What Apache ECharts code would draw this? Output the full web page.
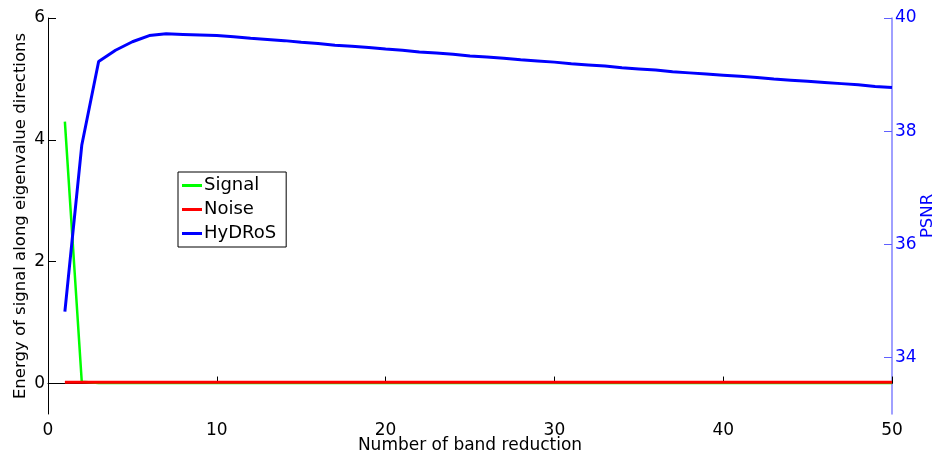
<!DOCTYPE html>
<html>
<head>
<meta charset="utf-8">
<script src="https://cdn.jsdelivr.net/npm/echarts@6/dist/echarts.min.js"></script>
<style>
  html, body { margin: 0; padding: 0; background: #fff; }
  #chart { width: 938px; height: 458px; }
</style>
</head>
<body>
<div id="chart"></div>
<script>
// Band reduction counts on the x axis
const bands = [1,2,3,4,5,6,7,8,9,10,11,12,13,14,15,16,17,18,19,20,21,22,23,24,25,
               26,27,28,29,30,31,32,33,34,35,36,37,38,39,40,41,42,43,44,45,46,47,48,49,50];

// Energy along eigenvalue directions (left axis)
const signalEnergy = [4.30,0.03,0.01,0.01,0.01,0.01,0.01,0.01,0.01,0.01,0.01,0.01,0.01,0.01,0.01,
                      0.01,0.01,0.01,0.01,0.01,0.01,0.01,0.01,0.01,0.01,0.01,0.01,0.01,0.01,0.01,
                      0.01,0.01,0.01,0.01,0.01,0.01,0.01,0.01,0.01,0.01,0.01,0.01,0.01,0.01,0.01,
                      0.01,0.01,0.01,0.01,0.01];
const noiseEnergy = [0.02,0.02,0.02,0.02,0.02,0.02,0.02,0.02,0.02,0.02,0.02,0.02,0.02,0.02,0.02,
                     0.02,0.02,0.02,0.02,0.02,0.02,0.02,0.02,0.02,0.02,0.02,0.02,0.02,0.02,0.02,
                     0.02,0.02,0.02,0.02,0.02,0.02,0.02,0.02,0.02,0.02,0.02,0.02,0.02,0.02,0.02,
                     0.02,0.02,0.02,0.02,0.02];

// PSNR of HyDRoS (right axis)
const hydrosPsnr = [34.81,37.75,39.23,39.43,39.58,39.69,39.72,39.71,39.70,39.69,
                    39.67,39.64,39.62,39.60,39.57,39.55,39.52,39.50,39.48,39.45,
                    39.43,39.40,39.38,39.36,39.33,39.31,39.29,39.26,39.24,39.22,
                    39.19,39.17,39.15,39.12,39.10,39.08,39.05,39.03,39.01,38.99,
                    38.97,38.95,38.92,38.90,38.88,38.86,38.84,38.82,38.79,38.77];

// Tick values
const xTicks = [0,10,20,30,40,50];
const leftTicks = [0,2,4,6];
const rightTicks = [34,36,38,40];

const FONT = 'DejaVu Sans';
const pair = (ys) => bands.map((b, i) => [b, ys[i]]);

const chart = echarts.init(document.getElementById('chart'), null, { renderer: 'canvas' });
chart.setOption({
  animation: false,
  backgroundColor: '#ffffff',
  textStyle: { fontFamily: FONT },
  grid: { left: 48, right: 46, top: 18, bottom: 44, containLabel: false, outerBoundsMode: 'none' },
  legend: {
    orient: 'vertical',
    left: 178, top: 172,
    padding: [3, 10, 3, 4],
    itemGap: 3,
    itemWidth: 20, itemHeight: 3,
    borderColor: '#000', borderWidth: 1, borderRadius: 0,
    backgroundColor: '#fff',
    textStyle: { fontFamily: FONT, fontSize: 18, color: '#000', lineHeight: 21, padding: [0, 0, 0, -3] },
    data: [
      { name: 'Signal', icon: 'rect' },
      { name: 'Noise', icon: 'rect' },
      { name: 'HyDRoS', icon: 'rect' }
    ]
  },
  xAxis: {
    type: 'value', min: 0, max: 50, interval: 10,
    name: 'Number of band reduction', nameLocation: 'middle', nameGap: 23, nameMoveOverlap: false,
    nameTextStyle: { fontFamily: FONT, fontSize: 17, color: '#000' },
    axisLine: { lineStyle: { color: '#000', width: 1 } },
    axisTick: { inside: true, length: 7, lineStyle: { color: '#000' } },
    axisLabel: { color: '#000', fontSize: 17, margin: 8, fontFamily: FONT, customValues: xTicks },
    splitLine: { show: false }
  },
  yAxis: [
    {
      type: 'value', min: -0.5, max: 6, position: 'left',
      name: 'Energy of signal along eigenvalue directions', nameLocation: 'middle', nameGap: 19, nameMoveOverlap: false,
      nameTextStyle: { fontFamily: FONT, fontSize: 16.5, color: '#000' },
      axisLine: { show: true, lineStyle: { color: '#000', width: 1 } },
      axisTick: { show: true, inside: true, length: 8, lineStyle: { color: '#000' }, customValues: leftTicks },
      axisLabel: { color: '#000', fontSize: 17, margin: 3, fontFamily: FONT, customValues: leftTicks },
      splitLine: { show: false }
    },
    {
      type: 'value', min: 33, max: 40, position: 'right',
      name: 'PSNR', nameLocation: 'middle', nameGap: 27, nameMoveOverlap: false,
      nameTextStyle: { fontFamily: FONT, fontSize: 16.5, color: '#0000ff' },
      axisLine: { show: true, lineStyle: { color: '#8080ff', width: 1.5 } },
      axisTick: { show: true, inside: true, length: 8, lineStyle: { color: '#6060ff' }, customValues: rightTicks },
      axisLabel: { color: '#0000ff', fontSize: 17, margin: 3, fontFamily: FONT, customValues: rightTicks },
      splitLine: { show: false }
    }
  ],
  series: [
    {
      name: 'Signal', type: 'line', yAxisIndex: 0, data: pair(signalEnergy),
      showSymbol: false, symbol: 'none', color: '#00ff00',
      lineStyle: { color: '#00ff00', width: 2.5 }
    },
    {
      name: 'Noise', type: 'line', yAxisIndex: 0, data: pair(noiseEnergy),
      showSymbol: false, symbol: 'none', color: '#ff0000',
      lineStyle: { color: '#ff0000', width: 3 }
    },
    {
      name: 'HyDRoS', type: 'line', yAxisIndex: 1, data: pair(hydrosPsnr),
      showSymbol: false, symbol: 'none', color: '#0000ff',
      lineStyle: { color: '#0000ff', width: 3 }
    }
  ]
});
</script>
</body>
</html>
